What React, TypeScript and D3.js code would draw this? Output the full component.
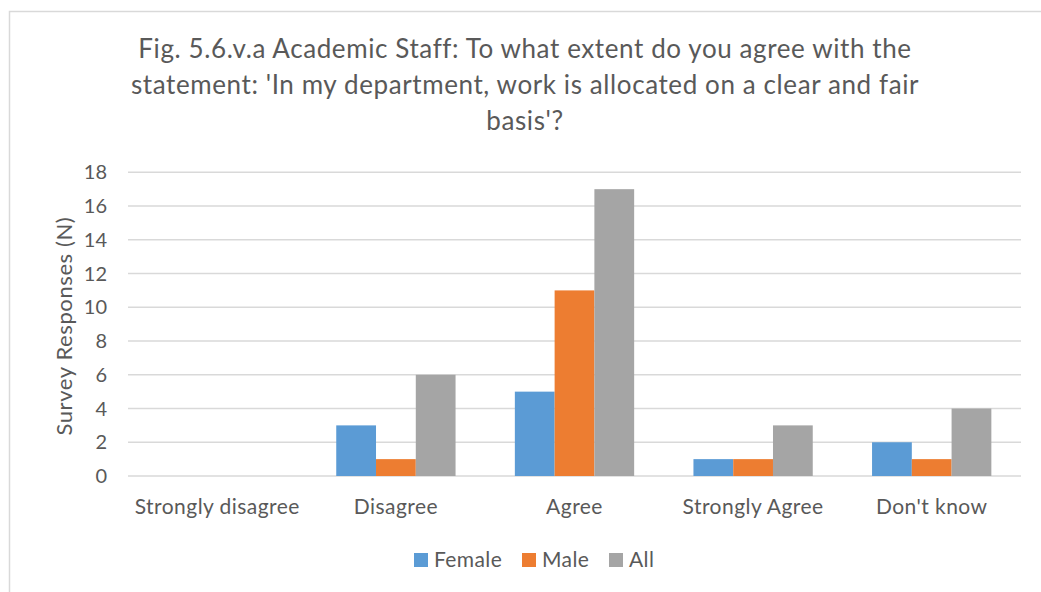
import React from "react";
import * as d3 from "d3";

const categories = ["Strongly disagree", "Disagree", "Agree", "Strongly Agree", "Don't know"];
const seriesNames = ["Female", "Male", "All"];
const female = [0, 3, 5, 1, 2];
const male = [0, 1, 11, 1, 1];
const all = [0, 6, 17, 3, 4];
const yTicks = [0, 2, 4, 6, 8, 10, 12, 14, 16, 18];
const colors = ["#5B9BD5", "#ED7D31", "#A5A5A5"];
const titleLines = [
  "Fig. 5.6.v.a Academic Staff: To what extent do you agree with the",
  "statement: 'In my department, work is allocated on a clear and fair",
  "basis'?",
];

const W = 1041;
const H = 592;
const plot = { left: 128, right: 1021, top: 172.3, bottom: 476 };
const font = "Lato, 'Open Sans', sans-serif";
const textColor = "#595959";

export default function App() {
  const values = [female, male, all];
  const x0 = d3.scaleBand<string>().domain(categories).range([plot.left, plot.right]).paddingInner(0.332).paddingOuter(0.166);
  const x1 = d3.scaleBand<string>().domain(seriesNames).range([0, x0.bandwidth()]).padding(0);
  const y = d3.scaleLinear().domain([0, 18]).range([plot.bottom, plot.top]);

  const legendItems = [
    { name: "Female", x: 414 },
    { name: "Male", x: 522 },
    { name: "All", x: 609 },
  ];

  return (
    <svg width={W} height={H} style={{ position: "absolute", left: 0, top: 0 }} fontFamily={font}>
      <rect x={0} y={0} width={W} height={H} fill="#fff" />
      <rect x={9.5} y={11.5} width={W + 10} height={H + 10} fill="none" stroke="#d9d9d9" strokeWidth={1.5} />
      {titleLines.map((t, i) => (
        <text key={i} x={525} y={58 + i * 36} textAnchor="middle" fontSize={26} letterSpacing={0.6} fill={textColor}>
          {t}
        </text>
      ))}
      {yTicks.map((t) => (
        <g key={t}>
          <line x1={plot.left} x2={plot.right} y1={y(t)} y2={y(t)} stroke="#d9d9d9" strokeWidth={1.5} />
          <text x={107} y={y(t)} dy="0.35em" textAnchor="end" fontSize={20} fill={textColor}>
            {t}
          </text>
        </g>
      ))}
      <text
        transform={`translate(72, ${(plot.top + plot.bottom) / 2 + 2}) rotate(-90)`}
        textAnchor="middle"
        fontSize={22}
        letterSpacing={0.6}
        fill={textColor}
      >
        Survey Responses (N)
      </text>
      {categories.map((c, ci) => (
        <g key={c}>
          {seriesNames.map((s, si) => {
            const v = values[si][ci];
            if (v <= 0) return null;
            return (
              <rect
                key={s}
                x={(x0(c) ?? 0) + (x1(s) ?? 0)}
                y={y(v)}
                width={x1.bandwidth()}
                height={y(0) - y(v)}
                fill={colors[si]}
              />
            );
          })}
          <text x={(x0(c) ?? 0) + x0.bandwidth() / 2} y={507} dy="0.35em" textAnchor="middle" fontSize={21} letterSpacing={0.45} fill={textColor}>
            {c}
          </text>
        </g>
      ))}
      {legendItems.map((l, i) => (
        <g key={l.name}>
          <rect x={l.x} y={553} width={14} height={14} fill={colors[i]} />
          <text x={l.x + 20} y={560} dy="0.35em" fontSize={21} letterSpacing={0.4} fill={textColor}>
            {l.name}
          </text>
        </g>
      ))}
    </svg>
  );
}
